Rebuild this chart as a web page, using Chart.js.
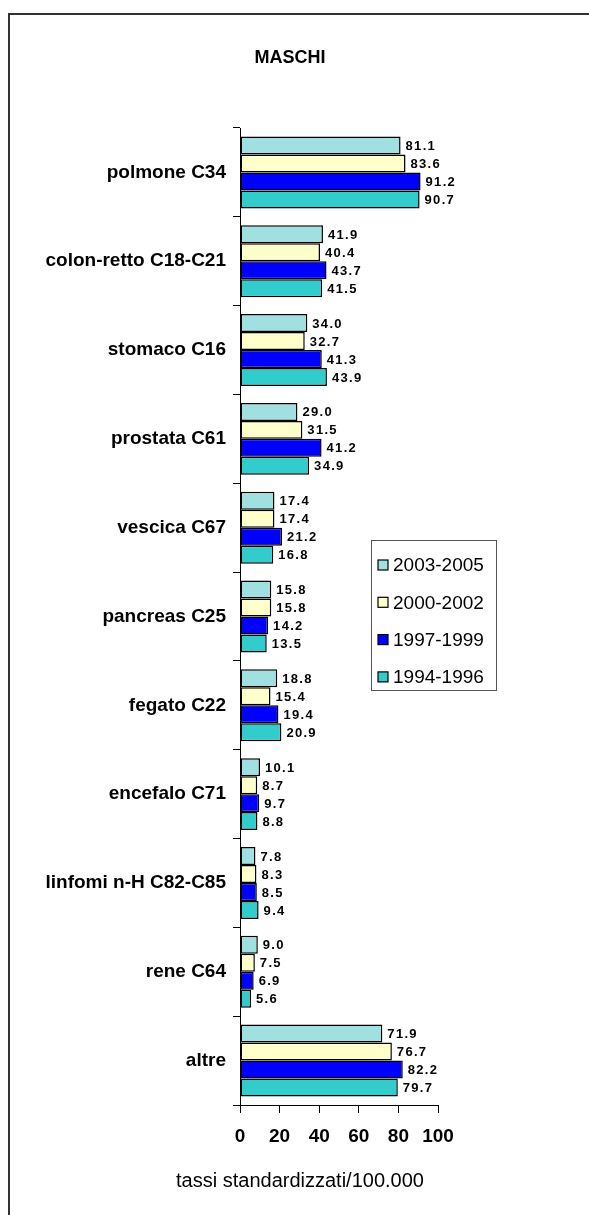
<!DOCTYPE html>
<html>
<head>
<meta charset="utf-8">
<script src="https://cdn.jsdelivr.net/npm/chart.js@4/dist/chart.umd.min.js"></script>
<style>
    html, body { margin: 0; padding: 0; background: #fff; overflow: hidden; }
    #wrap { position: relative; width: 589px; height: 1215px; }
    #frame { position: absolute; left: 8px; top: 13px; width: 600px; height: 1300px;
             border-left: 2px solid #333; border-top: 2px solid #333; }
    canvas { position: absolute; left: 0; top: 0; }
</style>
</head>
<body>
<div id="wrap">
    <div id="frame"></div>
    <canvas id="chart" width="589" height="1215"></canvas>
</div>
<script>
const FONT = '"Liberation Sans", Arial, sans-serif';

const categories = ['polmone C34', 'colon-retto C18-C21', 'stomaco C16', 'prostata C61',
    'vescica C67', 'pancreas C25', 'fegato C22', 'encefalo C71',
    'linfomi n-H C82-C85', 'rene C64', 'altre'];

const periods = ['2003-2005', '2000-2002', '1997-1999', '1994-1996'];

const v2003 = [81.1, 41.9, 34.0, 29.0, 17.4, 15.8, 18.8, 10.1, 7.8, 9.0, 71.9];
const v2000 = [83.6, 40.4, 32.7, 31.5, 17.4, 15.8, 15.4, 8.7, 8.3, 7.5, 76.7];
const v1997 = [91.2, 43.7, 41.3, 41.2, 21.2, 14.2, 19.4, 9.7, 8.5, 6.9, 82.2];
const v1994 = [90.7, 41.5, 43.9, 34.9, 16.8, 13.5, 20.9, 8.8, 9.4, 5.6, 79.7];

const xTicks = [0, 20, 40, 60, 80, 100];

const colors = ['#a0e0e0', '#ffffcc', '#0000ff', '#33cccc'];

// etichette dei valori a destra delle barre
const valueLabels = {
    id: 'valueLabels',
    afterDatasetsDraw(chart) {
        const ctx = chart.ctx;
        ctx.save();
        ctx.font = 'bold 13px ' + FONT;
        ctx.letterSpacing = '1.3px';
        ctx.fillStyle = '#000';
        ctx.textAlign = 'left';
        ctx.textBaseline = 'middle';
        chart.data.datasets.forEach((ds, i) => {
            chart.getDatasetMeta(i).data.forEach((bar, j) => {
                ctx.fillText(ds.data[j].toFixed(1), bar.x + 5, bar.y + 1);
            });
        });
        ctx.restore();
    }
};

// legenda in riquadro e titoli
const boxLegend = {
    id: 'boxLegend',
    afterDraw(chart) {
        const ctx = chart.ctx;
        ctx.save();
        ctx.strokeStyle = '#555';
        ctx.lineWidth = 1;
        ctx.strokeRect(371.5, 540.5, 125, 150);
        ctx.font = '19px ' + FONT;
        ctx.textBaseline = 'middle';
        chart.data.datasets.forEach((ds, i) => {
            const y = 565 + i * 37.3;
            ctx.fillStyle = ds.backgroundColor;
            ctx.fillRect(378, y - 5, 10, 10);
            ctx.strokeStyle = '#000';
            ctx.lineWidth = 1.2;
            ctx.strokeRect(378, y - 5, 10, 10);
            ctx.fillStyle = '#000';
            ctx.fillText(ds.label, 393, y + 1);
        });

        ctx.textAlign = 'center';
        ctx.font = 'bold 18px ' + FONT;
        ctx.fillText('MASCHI', 290, 58);
        ctx.font = '20px ' + FONT;
        ctx.fillText('tassi standardizzati/100.000', 300, 1181);
        ctx.restore();
    }
};

new Chart(document.getElementById('chart'), {
    type: 'bar',
    data: {
        labels: categories,
        datasets: [v2003, v2000, v1997, v1994].map((d, i) => ({
            label: periods[i],
            data: d,
            backgroundColor: colors[i],
            borderColor: '#000',
            borderWidth: 1.5,
            borderSkipped: false,
            barPercentage: 1.0,
            categoryPercentage: 0.81
        }))
    },
    options: {
        indexAxis: 'y',
        responsive: false,
        animation: false,
        layout: { padding: { top: 128, right: 151, left: 0, bottom: 0 } },
        plugins: {
            legend: { display: false },
            tooltip: { enabled: false },
            title: { display: false }
        },
        scales: {
            x: {
                min: 0,
                max: 100,
                afterFit: (s) => { s.height = 110; },
                afterBuildTicks: (s) => { s.ticks = xTicks.map(v => ({ value: v })); },
                grid: { drawOnChartArea: false, tickLength: 8, color: '#000', tickColor: '#000' },
                border: { color: '#000', width: 1 },
                ticks: {
                    color: '#000',
                    padding: 12,
                    font: { family: FONT, size: 19, weight: 'bold' }
                }
            },
            y: {
                afterFit: (s) => { s.width = 240; },
                grid: { drawOnChartArea: false, tickLength: 7, color: '#000', tickColor: '#000' },
                border: { color: '#000', width: 1 },
                ticks: {
                    color: '#000',
                    padding: 7,
                    font: { family: FONT, size: 19, weight: 'bold' }
                }
            }
        }
    },
    plugins: [valueLabels, boxLegend]
});
</script>
</body>
</html>
